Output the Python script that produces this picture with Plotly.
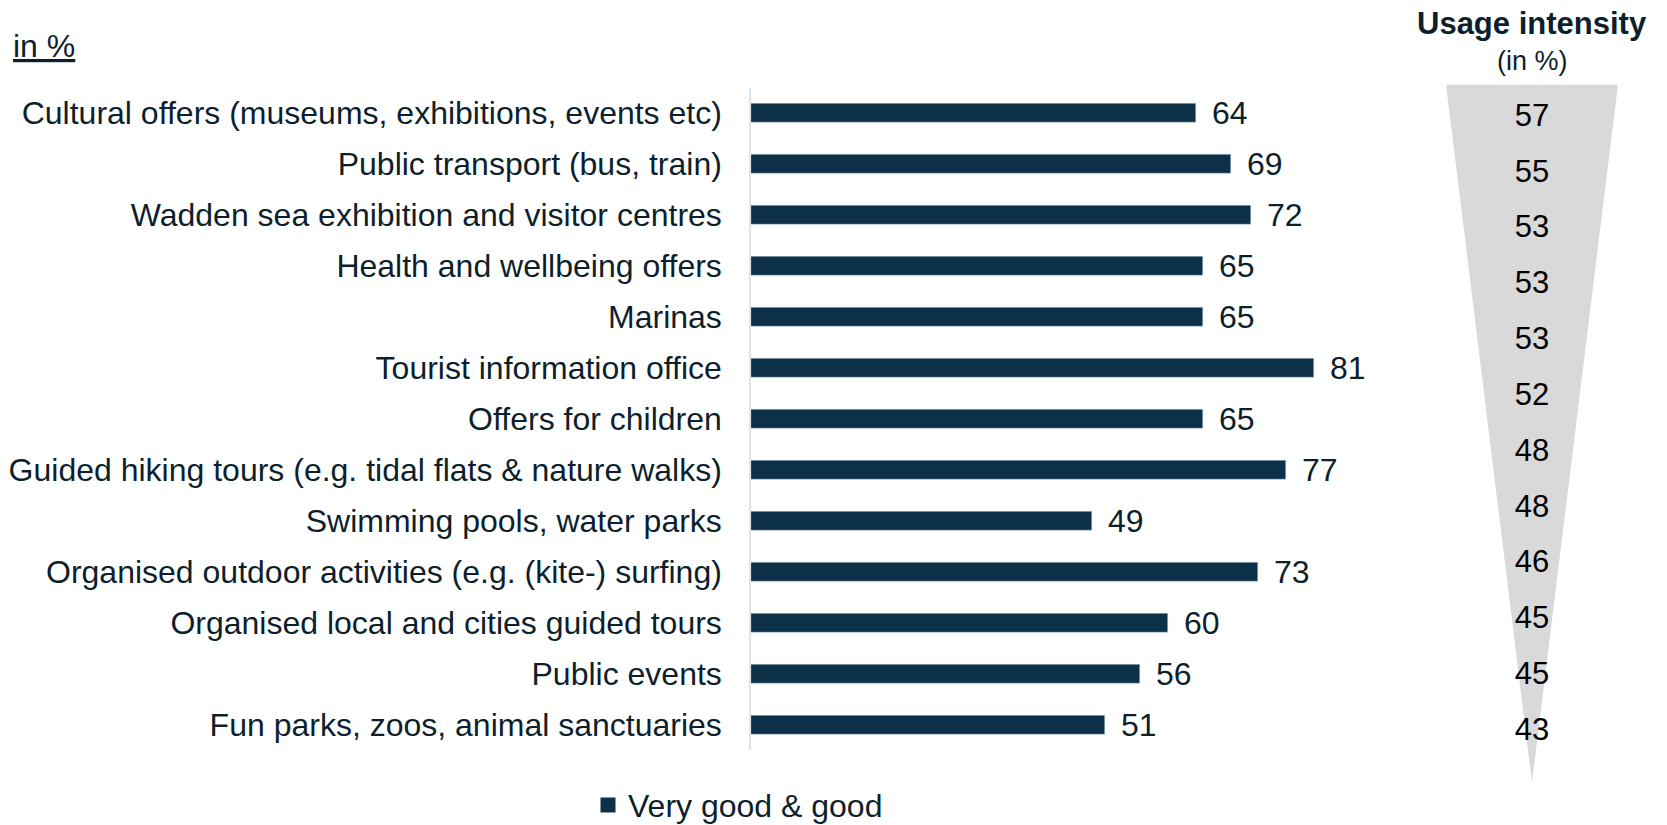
import plotly.graph_objects as go

# Data
categories = [
    "Cultural offers (museums, exhibitions, events etc)",
    "Public transport (bus, train)",
    "Wadden sea exhibition and visitor centres",
    "Health and wellbeing offers",
    "Marinas",
    "Tourist information office",
    "Offers for children",
    "Guided hiking tours (e.g. tidal flats & nature walks)",
    "Swimming pools, water parks",
    "Organised outdoor activities (e.g. (kite-) surfing)",
    "Organised local and cities guided tours",
    "Public events",
    "Fun parks, zoos, animal sanctuaries",
]
very_good_good = [64, 69, 72, 65, 65, 81, 65, 77, 49, 73, 60, 56, 51]
usage_intensity = [57, 55, 53, 53, 53, 52, 48, 48, 46, 45, 45, 43]

BAR = "#0b3048"
TEXT = "#0d1f2d"
FONT = "Liberation Sans, Arial, sans-serif"
W, H = 1667, 825
OFF = 8  # page body margin


def px(x):
    return (x - OFF) / W


def py(y):
    return 1 - (y - OFF) / H


fig = go.Figure()

fig.add_trace(go.Bar(
    x=very_good_good, y=categories, orientation="h",
    name="Very good & good",
    marker=dict(color=BAR, line=dict(color="#c9d9e6", width=0.5)),
    width=0.37,
    showlegend=False,
))
# legend entry with a bigger square symbol
fig.add_trace(go.Scatter(
    x=[None], y=[None], mode="markers", name="Very good & good",
    marker=dict(symbol="square", size=15, color=BAR),
))

# value labels next to the bars
for cat, v in zip(categories, very_good_good):
    fig.add_annotation(x=v, y=cat, xref="x", yref="y", text=str(v),
                       showarrow=False, xanchor="left", yanchor="middle",
                       xshift=14, font=dict(size=32, color=TEXT, family=FONT))

# usage intensity funnel on its own axes
n = len(usage_intensity)
top, apex = -0.6, n - 0.1
fig.add_trace(go.Scatter(
    x=[0, 1, 0.5, 0], y=[top, top, apex, top],
    xaxis="x2", yaxis="y2", mode="lines", fill="toself",
    fillcolor="#d9d9d9", line=dict(width=0), hoverinfo="skip",
    showlegend=False,
))
fig.add_trace(go.Scatter(
    x=[0.5] * n, y=list(range(n)), xaxis="x2", yaxis="y2",
    mode="text", text=[str(v) for v in usage_intensity],
    textfont=dict(size=31, color="#000000", family=FONT),
    showlegend=False, hoverinfo="skip",
))

fig.add_annotation(x=px(1532), y=py(24), xref="paper", yref="paper",
                   text="<b>Usage intensity</b>", showarrow=False,
                   xanchor="center", yanchor="middle",
                   font=dict(size=31, color=TEXT, family=FONT))
fig.add_annotation(x=px(1532), y=py(61), xref="paper", yref="paper",
                   text="(in %)", showarrow=False,
                   xanchor="center", yanchor="middle",
                   font=dict(size=27, color=TEXT, family=FONT))
fig.add_annotation(x=px(11), y=py(46), xref="paper", yref="paper",
                   text="<u>in %</u>", showarrow=False,
                   xanchor="left", yanchor="middle",
                   font=dict(size=32, color=TEXT, family=FONT))

fig.update_layout(
    width=W, height=H,
    margin=dict(l=0, r=0, t=0, b=0),
    plot_bgcolor="white", paper_bgcolor="white",
    font=dict(family=FONT, color=TEXT, size=32),
    bargap=0,
    xaxis=dict(domain=[px(751), px(1446)], range=[0, 100], visible=False),
    yaxis=dict(domain=[py(755), py(88)], autorange=False,
               range=[len(categories) - 0.5, -0.5], type="category",
               showline=True, linecolor="#d6e6f2", linewidth=1.5,
               ticks="", ticklabelstandoff=21, showgrid=False,
               tickfont=dict(size=32, color=TEXT, family=FONT)),
    xaxis2=dict(domain=[px(1446), px(1618)], range=[0, 1], visible=False,
                anchor="y2"),
    yaxis2=dict(domain=[py(787), py(85)], range=[apex, top],
                visible=False, anchor="x2"),
    legend=dict(orientation="h", x=px(588), y=py(810),
                xanchor="left", yanchor="middle",
                font=dict(size=32, color=TEXT, family=FONT)),
)

fig.write_html("out.html")
